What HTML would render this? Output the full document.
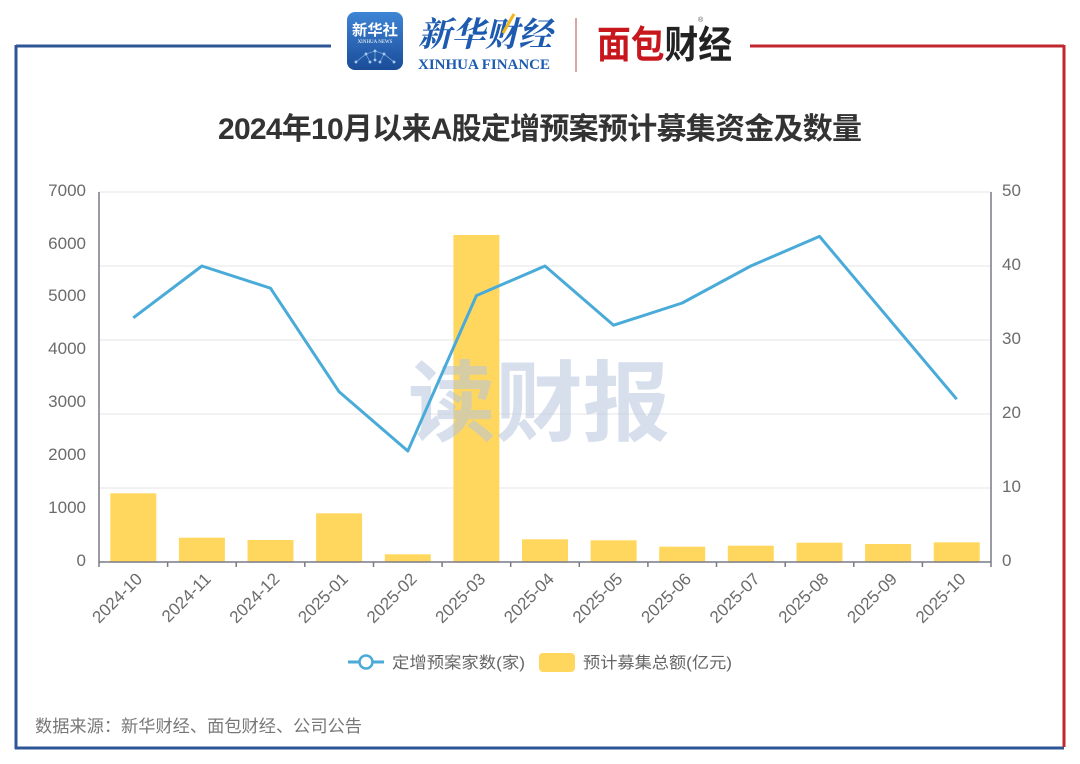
<!DOCTYPE html>
<html>
<head>
<meta charset="utf-8">
<style>
  html,body{margin:0;padding:0;background:#fff;}
  svg{display:block;}
  .s{font-family:"Liberation Sans","Noto Sans CJK SC",sans-serif;}
</style>
</head>
<body>
<svg width="1080" height="764" viewBox="0 0 1080 764" xmlns="http://www.w3.org/2000/svg" class="s">
  <defs>
    <linearGradient id="xh" x1="0" y1="0" x2="0" y2="1">
      <stop offset="0" stop-color="#3f86d6"/>
      <stop offset="1" stop-color="#1a4c98"/>
    </linearGradient>
  </defs>
  <rect width="1080" height="764" fill="#fff"/>

  <!-- frame -->
  <line x1="16" y1="46" x2="331" y2="46" stroke="#2e5596" stroke-width="3"/>
  <line x1="16" y1="45" x2="16" y2="749" stroke="#2e5596" stroke-width="3"/>
  <line x1="15" y1="748" x2="1064" y2="748" stroke="#2e5596" stroke-width="3"/>
  <line x1="750" y1="46" x2="1064" y2="46" stroke="#c1272d" stroke-width="3"/>
  <line x1="1064" y1="45" x2="1064" y2="747" stroke="#c1272d" stroke-width="3"/>

  <!-- logos -->
  <rect x="347" y="12" width="56" height="58" rx="8" fill="url(#xh)"/>
  <text x="375" y="35" text-anchor="middle" font-size="15" font-weight="bold" fill="#fff" textLength="46" lengthAdjust="spacingAndGlyphs">新华社</text>
  <text x="375" y="43" text-anchor="middle" font-size="5" fill="#fff" style="font-family:'Liberation Serif',serif">XINHUA NEWS</text>
  <g stroke="#9cc6f2" stroke-width="0.6" fill="#dff0ff" opacity="0.85">
    <line x1="356" y1="62" x2="366" y2="54"/><line x1="366" y1="54" x2="375" y2="51"/>
    <line x1="375" y1="51" x2="384" y2="54"/><line x1="384" y1="54" x2="394" y2="62"/>
    <line x1="366" y1="54" x2="370" y2="62"/><line x1="384" y1="54" x2="380" y2="62"/>
    <line x1="375" y1="51" x2="375" y2="60"/>
    <circle cx="356" cy="62" r="1.2"/><circle cx="366" cy="54" r="1.2"/><circle cx="375" cy="51" r="1.2"/>
    <circle cx="384" cy="54" r="1.2"/><circle cx="394" cy="62" r="1.2"/><circle cx="370" cy="62" r="1.2"/>
    <circle cx="380" cy="62" r="1.2"/><circle cx="375" cy="60" r="1.2"/>
  </g>
  <text x="418" y="46" font-size="34" font-weight="bold" fill="#1d5bb0" style="font-family:'Noto Serif CJK SC',serif;font-style:italic" textLength="134" lengthAdjust="spacingAndGlyphs">新华财经</text>
  <line x1="503" y1="33" x2="514" y2="14" stroke="#f2b51c" stroke-width="3"/>
  <text x="418" y="69" font-size="15" font-weight="bold" fill="#1d5bb0" style="font-family:'Liberation Serif',serif" textLength="132" lengthAdjust="spacingAndGlyphs">XINHUA FINANCE</text>
  <line x1="576" y1="18" x2="576" y2="72" stroke="#c98a8a" stroke-width="1.5"/>
  <text x="597" y="58" font-size="38" font-weight="bold" textLength="135" lengthAdjust="spacingAndGlyphs"><tspan fill="#c8161d">面包</tspan><tspan fill="#222">财经</tspan></text>
  <text x="698" y="22" font-size="7" fill="#555">®</text>

  <!-- title -->
  <text x="218" y="139" font-size="30" font-weight="bold" fill="#333" textLength="644" lengthAdjust="spacing">2024年10月以来A股定增预案预计募集资金及数量</text>

  <!-- grid -->
  <g stroke="#e6e6e6" stroke-width="1">
    <line x1="99" y1="192" x2="991" y2="192"/>
    <line x1="99" y1="266" x2="991" y2="266"/>
    <line x1="99" y1="340" x2="991" y2="340"/>
    <line x1="99" y1="414" x2="991" y2="414"/>
    <line x1="99" y1="488" x2="991" y2="488"/>
  </g>

  <!-- bars -->
  <g fill="#ffd75e">
    <rect x="110.3" y="493.3" width="46" height="68.7"/>
    <rect x="178.9" y="537.7" width="46" height="24.3"/>
    <rect x="247.5" y="540" width="46" height="22"/>
    <rect x="316.1" y="513.3" width="46" height="48.7"/>
    <rect x="384.8" y="554.3" width="46" height="7.7"/>
    <rect x="453.4" y="235" width="46" height="327"/>
    <rect x="522" y="539.3" width="46" height="22.7"/>
    <rect x="590.6" y="540.3" width="46" height="21.7"/>
    <rect x="659.2" y="546.7" width="46" height="15.3"/>
    <rect x="727.8" y="545.7" width="46" height="16.3"/>
    <rect x="796.5" y="542.7" width="46" height="19.3"/>
    <rect x="865.1" y="544" width="46" height="18"/>
    <rect x="933.7" y="542.3" width="46" height="19.7"/>
  </g>

  <!-- watermark -->
  <text x="408" y="434" font-size="88" font-weight="bold" fill="#b8c6df" opacity="0.55" textLength="262" lengthAdjust="spacingAndGlyphs">读财报</text>

  <!-- axes -->
  <g stroke="#7a7a85" stroke-width="1.5">
    <line x1="99" y1="192" x2="99" y2="562"/>
    <line x1="991" y1="192" x2="991" y2="562"/>
    <line x1="99" y1="562" x2="991" y2="562"/>
  </g>
  <g stroke="#7a7a85" stroke-width="1.5">
    <line x1="99" y1="562" x2="99" y2="567"/>
    <line x1="167.6" y1="562" x2="167.6" y2="567"/>
    <line x1="236.2" y1="562" x2="236.2" y2="567"/>
    <line x1="304.8" y1="562" x2="304.8" y2="567"/>
    <line x1="373.5" y1="562" x2="373.5" y2="567"/>
    <line x1="442.1" y1="562" x2="442.1" y2="567"/>
    <line x1="510.7" y1="562" x2="510.7" y2="567"/>
    <line x1="579.3" y1="562" x2="579.3" y2="567"/>
    <line x1="647.9" y1="562" x2="647.9" y2="567"/>
    <line x1="716.5" y1="562" x2="716.5" y2="567"/>
    <line x1="785.2" y1="562" x2="785.2" y2="567"/>
    <line x1="853.8" y1="562" x2="853.8" y2="567"/>
    <line x1="922.4" y1="562" x2="922.4" y2="567"/>
    <line x1="991" y1="562" x2="991" y2="567"/>
  </g>

  <!-- line series -->
  <polyline fill="none" stroke="#4aabd9" stroke-width="3" stroke-linejoin="round"
    points="133.3,317.8 201.9,266 270.5,288.2 339.1,391.8 407.8,451 476.4,295.6 545,266 613.6,325.2 682.2,303 750.8,266 819.5,236.4 888.1,317.8 956.7,399.2"/>

  <!-- left axis labels -->
  <g font-size="17" fill="#6b6b6b" text-anchor="end">
    <text x="86" y="196">7000</text>
    <text x="86" y="249">6000</text>
    <text x="86" y="301">5000</text>
    <text x="86" y="354">4000</text>
    <text x="86" y="407">3000</text>
    <text x="86" y="460">2000</text>
    <text x="86" y="513">1000</text>
    <text x="86" y="566">0</text>
  </g>
  <!-- right axis labels -->
  <g font-size="17" fill="#6b6b6b">
    <text x="1002" y="196">50</text>
    <text x="1002" y="270">40</text>
    <text x="1002" y="344">30</text>
    <text x="1002" y="418">20</text>
    <text x="1002" y="492">10</text>
    <text x="1002" y="566">0</text>
  </g>

  <!-- x labels -->
  <g font-size="17" fill="#6b6b6b" text-anchor="end">
    <text x="143.3" y="580" transform="rotate(-45 143.3 580)">2024-10</text>
    <text x="211.9" y="580" transform="rotate(-45 211.9 580)">2024-11</text>
    <text x="280.5" y="580" transform="rotate(-45 280.5 580)">2024-12</text>
    <text x="349.1" y="580" transform="rotate(-45 349.1 580)">2025-01</text>
    <text x="417.8" y="580" transform="rotate(-45 417.8 580)">2025-02</text>
    <text x="486.4" y="580" transform="rotate(-45 486.4 580)">2025-03</text>
    <text x="555" y="580" transform="rotate(-45 555 580)">2025-04</text>
    <text x="623.6" y="580" transform="rotate(-45 623.6 580)">2025-05</text>
    <text x="692.2" y="580" transform="rotate(-45 692.2 580)">2025-06</text>
    <text x="760.8" y="580" transform="rotate(-45 760.8 580)">2025-07</text>
    <text x="829.5" y="580" transform="rotate(-45 829.5 580)">2025-08</text>
    <text x="898.1" y="580" transform="rotate(-45 898.1 580)">2025-09</text>
    <text x="966.7" y="580" transform="rotate(-45 966.7 580)">2025-10</text>
  </g>

  <!-- legend -->
  <line x1="348" y1="662" x2="384" y2="662" stroke="#4aabd9" stroke-width="3"/>
  <circle cx="366" cy="662" r="6.5" fill="#fff" stroke="#4aabd9" stroke-width="2.5"/>
  <text x="392" y="668" font-size="16" fill="#666" textLength="133" lengthAdjust="spacingAndGlyphs">定增预案家数(家)</text>
  <rect x="539" y="653" width="36" height="19" rx="4" fill="#ffd75e"/>
  <text x="583" y="668" font-size="16" fill="#666" textLength="149" lengthAdjust="spacingAndGlyphs">预计募集总额(亿元)</text>

  <!-- footer -->
  <text x="35" y="732" font-size="17" fill="#777" textLength="327" lengthAdjust="spacingAndGlyphs">数据来源：新华财经、面包财经、公司公告</text>
</svg>
</body>
</html>
